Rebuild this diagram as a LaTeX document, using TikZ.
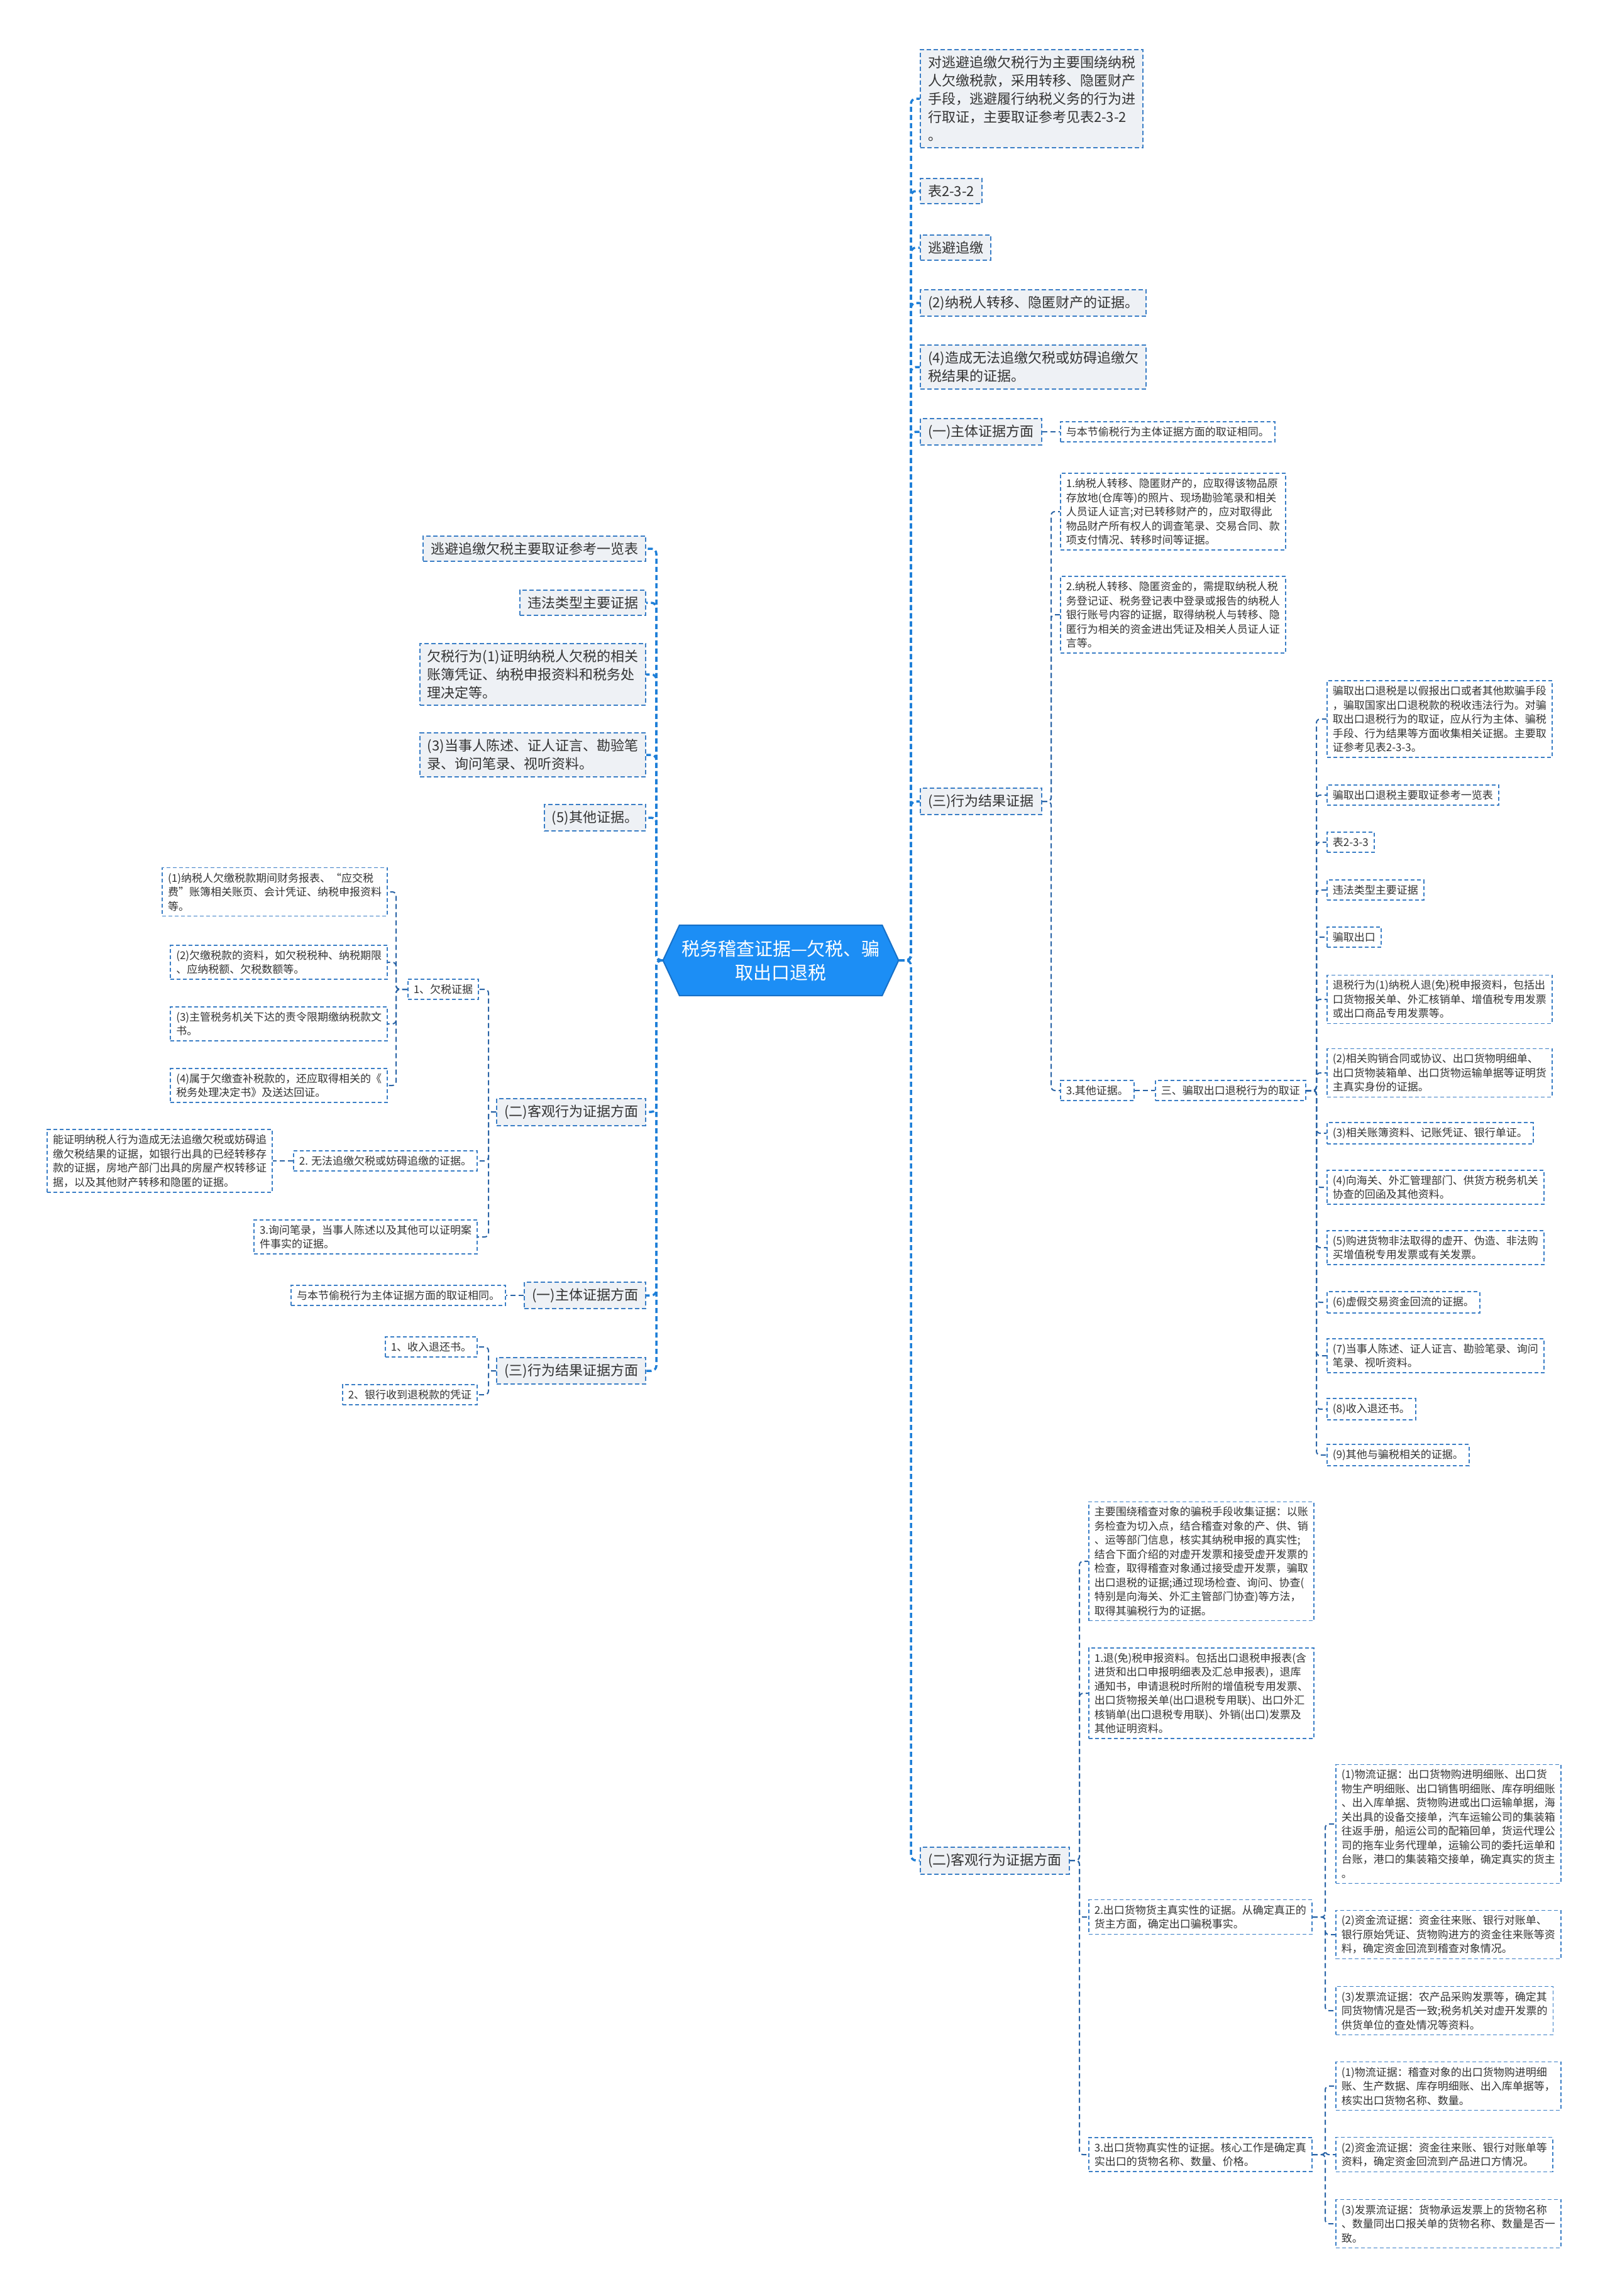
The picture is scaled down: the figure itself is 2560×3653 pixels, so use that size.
\documentclass[tikz,border=0pt]{standalone}
\usepackage{fontspec}
\setmainfont{Noto Sans CJK SC}
\usetikzlibrary{shapes.symbols}
\definecolor{boxblue}{HTML}{3A7EC6}
\definecolor{lkblue}{HTML}{1E7FD8}
\definecolor{lkdark}{HTML}{2A64A6}
\definecolor{grayfill}{HTML}{EEF1F5}
\definecolor{rootblue}{HTML}{1C8EF5}
\definecolor{rootline}{HTML}{1670C8}
\definecolor{txtgray}{HTML}{333333}
\begin{document}
\begin{tikzpicture}[x=1pt,y=-1pt,
  mainbox/.style={draw=boxblue, line width=2pt, dash pattern=on 7pt off 4pt, fill=grayfill, text=txtgray, anchor=west, align=left, inner xsep=12pt, inner ysep=10pt, font=\fontsize{22}{29}\selectfont},
  mainboxl/.style={mainbox, anchor=east},
  subbox/.style={draw=boxblue, line width=1.6pt, dash pattern=on 6pt off 4pt, fill=white, text=txtgray, anchor=west, align=left, inner xsep=9pt, inner ysep=8pt, font=\fontsize{17}{22.5}\selectfont},
  subboxl/.style={subbox, anchor=east},
  rootbox/.style={signal, signal to=west and east, signal pointer angle=130, fill=rootblue, draw=rootline, line width=2pt, text=white, align=center, minimum width=366pt, minimum height=112pt, font=\fontsize{29}{38}\selectfont},
  lkone/.style={draw=lkblue, line width=3.5pt, dash pattern=on 8pt off 5pt, rounded corners=8pt},
  lktwo/.style={draw=lkdark, line width=2pt, dash pattern=on 8pt off 5pt, rounded corners=6pt}]
\useasboundingbox[fill=white] (0,0) rectangle (2560,3653);

\node[rootbox] (root) at (1242,1528) {税务稽查证据—欠税、骗\\取出口退税};

% trunk positions
\coordinate (rt) at (1449,0);
\coordinate (rvt) at (1672,0);
\coordinate (qt) at (2094,0);
\coordinate (rkt) at (1717,0);
\coordinate (gt) at (2108,0);
\coordinate (lt) at (1044,0);
\coordinate (lkt) at (777,0);
\coordinate (qst) at (630,0);

% right side
\node[mainbox] (r1) at (1463,157) {对逃避追缴欠税行为主要围绕纳税\\人欠缴税款，采用转移、隐匿财产\\手段，逃避履行纳税义务的行为进\\行取证，主要取证参考见表2-3-2\\。};
\node[mainbox] (r2) at (1463,304) {表2-3-2};
\node[mainbox] (r3) at (1463,394) {逃避追缴};
\node[mainbox] (r4) at (1463,482) {(2)纳税人转移、隐匿财产的证据。};
\node[mainbox] (r5) at (1463,584) {(4)造成无法追缴欠税或妨碍追缴欠\\税结果的证据。};
\node[mainbox] (r6) at (1463,687) {(一)主体证据方面};
\node[subbox] (r6a) at (1686,687) {与本节偷税行为主体证据方面的取证相同。};
\node[mainbox] (r7) at (1463,1275) {(三)行为结果证据};
\node[mainbox] (r8) at (1463,2960) {(二)客观行为证据方面};

\node[subbox] (rv1) at (1686,814) {1.纳税人转移、隐匿财产的，应取得该物品原\\存放地(仓库等)的照片、现场勘验笔录和相关\\人员证人证言;对已转移财产的，应对取得此\\物品财产所有权人的调查笔录、交易合同、款\\项支付情况、转移时间等证据。};
\node[subbox] (rv2) at (1686,978) {2.纳税人转移、隐匿资金的，需提取纳税人税\\务登记证、税务登记表中登录或报告的纳税人\\银行账号内容的证据，取得纳税人与转移、隐\\匿行为相关的资金进出凭证及相关人员证人证\\言等。};
\node[subbox] (rv3) at (1686,1735) {3.其他证据。};
\node[subbox] (qs) at (1837,1735) {三、骗取出口退税行为的取证};

\node[subbox] (q1) at (2110,1144) {骗取出口退税是以假报出口或者其他欺骗手段\\，骗取国家出口退税款的税收违法行为。对骗\\取出口退税行为的取证，应从行为主体、骗税\\手段、行为结果等方面收集相关证据。主要取\\证参考见表2-3-3。};
\node[subbox] (q2) at (2110,1265) {骗取出口退税主要取证参考一览表};
\node[subbox] (q3) at (2110,1340) {表2-3-3};
\node[subbox] (q4) at (2110,1416) {违法类型主要证据};
\node[subbox] (q5) at (2110,1491) {骗取出口};
\node[subbox] (q6) at (2110,1590) {退税行为(1)纳税人退(免)税申报资料，包括出\\口货物报关单、外汇核销单、增值税专用发票\\或出口商品专用发票等。};
\node[subbox] (q7) at (2110,1707) {(2)相关购销合同或协议、出口货物明细单、\\出口货物装箱单、出口货物运输单据等证明货\\主真实身份的证据。};
\node[subbox] (q8) at (2110,1803) {(3)相关账簿资料、记账凭证、银行单证。};
\node[subbox] (q9) at (2110,1889) {(4)向海关、外汇管理部门、供货方税务机关\\协查的回函及其他资料。};
\node[subbox] (q10) at (2110,1985) {(5)购进货物非法取得的虚开、伪造、非法购\\买增值税专用发票或有关发票。};
\node[subbox] (q11) at (2110,2072) {(6)虚假交易资金回流的证据。};
\node[subbox] (q12) at (2110,2157) {(7)当事人陈述、证人证言、勘验笔录、询问\\笔录、视听资料。};
\node[subbox] (q13) at (2110,2242) {(8)收入退还书。};
\node[subbox] (q14) at (2110,2315) {(9)其他与骗税相关的证据。};

\node[subbox] (rk1) at (1731,2484) {主要围绕稽查对象的骗税手段收集证据：以账\\务检查为切入点，结合稽查对象的产、供、销\\、运等部门信息，核实其纳税申报的真实性;\\结合下面介绍的对虚开发票和接受虚开发票的\\检查，取得稽查对象通过接受虚开发票，骗取\\出口退税的证据;通过现场检查、询问、协查(\\特别是向海关、外汇主管部门协查)等方法，\\取得其骗税行为的证据。};
\node[subbox] (rk2) at (1731,2694) {1.退(免)税申报资料。包括出口退税申报表(含\\进货和出口申报明细表及汇总申报表)，退库\\通知书，申请退税时所附的增值税专用发票、\\出口货物报关单(出口退税专用联)、出口外汇\\核销单(出口退税专用联)、外销(出口)发票及\\其他证明资料。};
\node[subbox] (rk3) at (1731,3050) {2.出口货物货主真实性的证据。从确定真正的\\货主方面，确定出口骗税事实。};
\node[subbox] (rk4) at (1731,3428) {3.出口货物真实性的证据。核心工作是确定真\\实出口的货物名称、数量、价格。};

\node[subbox] (g1) at (2124,2902) {(1)物流证据：出口货物购进明细账、出口货\\物生产明细账、出口销售明细账、库存明细账\\、出入库单据、货物购进或出口运输单据，海\\关出具的设备交接单，汽车运输公司的集装箱\\往返手册，船运公司的配箱回单，货运代理公\\司的拖车业务代理单，运输公司的委托运单和\\台账，港口的集装箱交接单，确定真实的货主\\。};
\node[subbox] (g2) at (2124,3078) {(2)资金流证据：资金往来账、银行对账单、\\银行原始凭证、货物购进方的资金往来账等资\\料，确定资金回流到稽查对象情况。};
\node[subbox] (g3) at (2124,3199) {(3)发票流证据：农产品采购发票等，确定其\\同货物情况是否一致;税务机关对虚开发票的\\供货单位的查处情况等资料。};
\node[subbox] (h1) at (2124,3319) {(1)物流证据：稽查对象的出口货物购进明细\\账、生产数据、库存明细账、出入库单据等，\\核实出口货物名称、数量。};
\node[subbox] (h2) at (2124,3428) {(2)资金流证据：资金往来账、银行对账单等\\资料，确定资金回流到产品进口方情况。};
\node[subbox] (h3) at (2124,3538) {(3)发票流证据：货物承运发票上的货物名称\\、数量同出口报关单的货物名称、数量是否一\\致。};

% left side
\node[mainboxl] (l1) at (1028,873) {逃避追缴欠税主要取证参考一览表};
\node[mainboxl] (l2) at (1028,959) {违法类型主要证据};
\node[mainboxl] (l3) at (1028,1073) {欠税行为(1)证明纳税人欠税的相关\\账簿凭证、纳税申报资料和税务处\\理决定等。};
\node[mainboxl] (l4) at (1028,1201) {(3)当事人陈述、证人证言、勘验笔\\录、询问笔录、视听资料。};
\node[mainboxl] (l5) at (1028,1301) {(5)其他证据。};
\node[mainboxl] (l6) at (1028,1769) {(二)客观行为证据方面};
\node[mainboxl] (l7) at (1028,2061) {(一)主体证据方面};
\node[mainboxl] (l8) at (1028,2181) {(三)行为结果证据方面};

\node[subboxl] (lk1) at (762,1574) {1、欠税证据};
\node[subboxl] (lk2) at (760,1847) {2. 无法追缴欠税或妨碍追缴的证据。};
\node[subboxl] (lk3) at (760,1968) {3.询问笔录，当事人陈述以及其他可以证明案\\件事实的证据。};
\node[subboxl] (lk2a) at (434,1847) {能证明纳税人行为造成无法追缴欠税或妨碍追\\缴欠税结果的证据，如银行出具的已经转移存\\款的证据，房地产部门出具的房屋产权转移证\\据，以及其他财产转移和隐匿的证据。};
\node[subboxl] (qs1) at (617,1419) {(1)纳税人欠缴税款期间财务报表、“应交税\\费”账簿相关账页、会计凭证、纳税申报资料\\等。};
\node[subboxl] (qs2) at (617,1531) {(2)欠缴税款的资料，如欠税税种、纳税期限\\、应纳税额、欠税数额等。};
\node[subboxl] (qs3) at (617,1629) {(3)主管税务机关下达的责令限期缴纳税款文\\书。};
\node[subboxl] (qs4) at (617,1727) {(4)属于欠缴查补税款的，还应取得相关的《\\税务处理决定书》及送达回证。};
\node[subboxl] (l7a) at (805,2061) {与本节偷税行为主体证据方面的取证相同。};
\node[subboxl] (lg1) at (760,2143) {1、收入退还书。};
\node[subboxl] (lg2) at (760,2219) {2、银行收到退税款的凭证};

% connectors right
\draw[lkone] (root.east) -- (root.east -| rt) |- (r1.west);
\draw[lkone] (root.east) -- (root.east -| rt) |- (r2.west);
\draw[lkone] (root.east) -- (root.east -| rt) |- (r3.west);
\draw[lkone] (root.east) -- (root.east -| rt) |- (r4.west);
\draw[lkone] (root.east) -- (root.east -| rt) |- (r5.west);
\draw[lkone] (root.east) -- (root.east -| rt) |- (r6.west);
\draw[lkone] (root.east) -- (root.east -| rt) |- (r7.west);
\draw[lkone] (root.east) -- (root.east -| rt) |- (r8.west);
\draw[lktwo] (r6.east) -- (r6a.west);
\draw[lktwo] (r7.east) -- (r7.east -| rvt) |- (rv1.west);
\draw[lktwo] (r7.east) -- (r7.east -| rvt) |- (rv2.west);
\draw[lktwo] (r7.east) -- (r7.east -| rvt) |- (rv3.west);
\draw[lktwo] (rv3.east) -- (qs.west);
\draw[lktwo] (qs.east) -- (qs.east -| qt) |- (q1.west);
\draw[lktwo] (qs.east) -- (qs.east -| qt) |- (q2.west);
\draw[lktwo] (qs.east) -- (qs.east -| qt) |- (q3.west);
\draw[lktwo] (qs.east) -- (qs.east -| qt) |- (q4.west);
\draw[lktwo] (qs.east) -- (qs.east -| qt) |- (q5.west);
\draw[lktwo] (qs.east) -- (qs.east -| qt) |- (q6.west);
\draw[lktwo] (qs.east) -- (qs.east -| qt) |- (q7.west);
\draw[lktwo] (qs.east) -- (qs.east -| qt) |- (q8.west);
\draw[lktwo] (qs.east) -- (qs.east -| qt) |- (q9.west);
\draw[lktwo] (qs.east) -- (qs.east -| qt) |- (q10.west);
\draw[lktwo] (qs.east) -- (qs.east -| qt) |- (q11.west);
\draw[lktwo] (qs.east) -- (qs.east -| qt) |- (q12.west);
\draw[lktwo] (qs.east) -- (qs.east -| qt) |- (q13.west);
\draw[lktwo] (qs.east) -- (qs.east -| qt) |- (q14.west);
\draw[lktwo] (r8.east) -- (r8.east -| rkt) |- (rk1.west);
\draw[lktwo] (r8.east) -- (r8.east -| rkt) |- (rk2.west);
\draw[lktwo] (r8.east) -- (r8.east -| rkt) |- (rk3.west);
\draw[lktwo] (r8.east) -- (r8.east -| rkt) |- (rk4.west);
\draw[lktwo] (rk3.east) -- (rk3.east -| gt) |- (g1.west);
\draw[lktwo] (rk3.east) -- (rk3.east -| gt) |- (g2.west);
\draw[lktwo] (rk3.east) -- (rk3.east -| gt) |- (g3.west);
\draw[lktwo] (rk4.east) -- (rk4.east -| gt) |- (h1.west);
\draw[lktwo] (rk4.east) -- (rk4.east -| gt) |- (h2.west);
\draw[lktwo] (rk4.east) -- (rk4.east -| gt) |- (h3.west);

% connectors left
\draw[lkone] (root.west) -- (root.west -| lt) |- (l1.east);
\draw[lkone] (root.west) -- (root.west -| lt) |- (l2.east);
\draw[lkone] (root.west) -- (root.west -| lt) |- (l3.east);
\draw[lkone] (root.west) -- (root.west -| lt) |- (l4.east);
\draw[lkone] (root.west) -- (root.west -| lt) |- (l5.east);
\draw[lkone] (root.west) -- (root.west -| lt) |- (l6.east);
\draw[lkone] (root.west) -- (root.west -| lt) |- (l7.east);
\draw[lkone] (root.west) -- (root.west -| lt) |- (l8.east);
\draw[lktwo] (l6.west) -- (l6.west -| lkt) |- (lk1.east);
\draw[lktwo] (l6.west) -- (l6.west -| lkt) |- (lk2.east);
\draw[lktwo] (l6.west) -- (l6.west -| lkt) |- (lk3.east);
\draw[lktwo] (lk2.west) -- (lk2a.east);
\draw[lktwo] (lk1.west) -- (lk1.west -| qst) |- (qs1.east);
\draw[lktwo] (lk1.west) -- (lk1.west -| qst) |- (qs2.east);
\draw[lktwo] (lk1.west) -- (lk1.west -| qst) |- (qs3.east);
\draw[lktwo] (lk1.west) -- (lk1.west -| qst) |- (qs4.east);
\draw[lktwo] (l7.west) -- (l7a.east);
\draw[lktwo] (l8.west) -- (l8.west -| lkt) |- (lg1.east);
\draw[lktwo] (l8.west) -- (l8.west -| lkt) |- (lg2.east);
\end{tikzpicture}
\end{document}
